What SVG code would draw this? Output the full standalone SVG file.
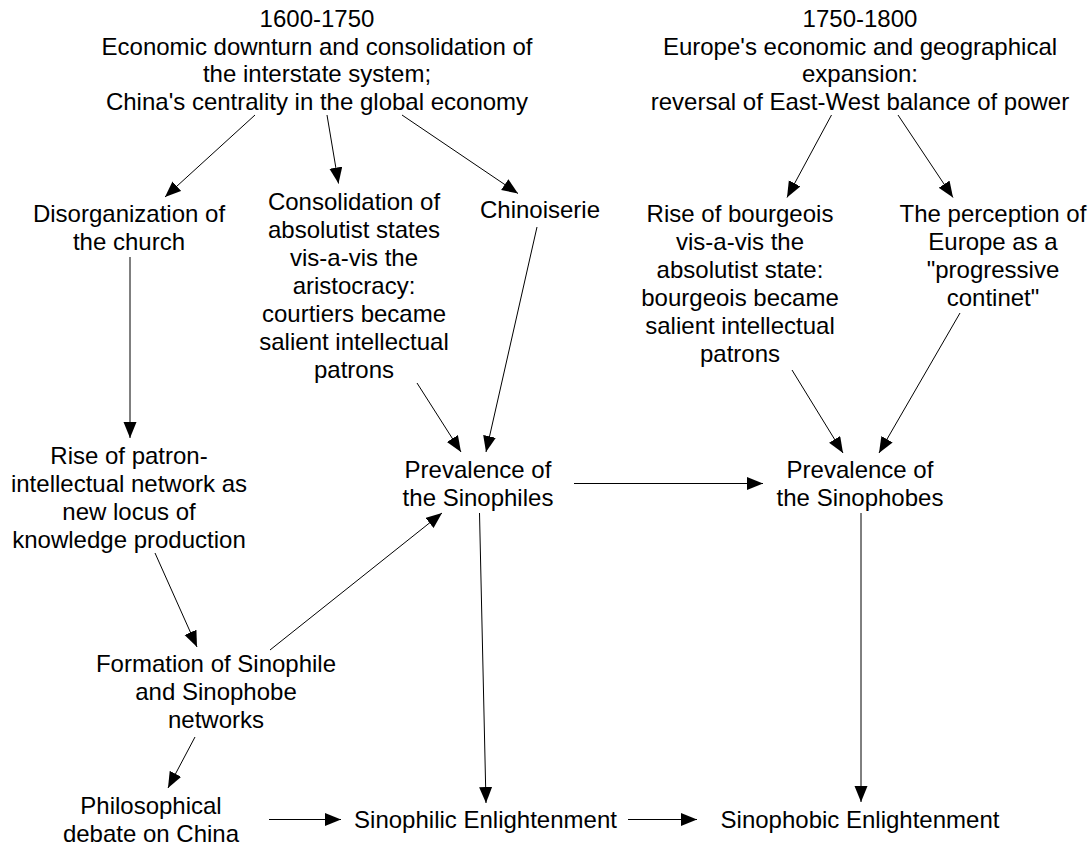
<svg xmlns="http://www.w3.org/2000/svg" width="1092" height="850" viewBox="0 0 1092 850">
<style>
text{font-family:"Liberation Sans",Arial,Helvetica,sans-serif;font-size:24px;fill:#000;text-anchor:middle}
.c line{stroke:#000;stroke-width:1;fill:none;marker-end:url(#ah)}
</style>
<defs>
<marker id="ah" markerUnits="userSpaceOnUse" markerWidth="17" markerHeight="14" refX="16" refY="6.5" orient="auto">
<path d="M0,0 L16,6.5 L0,13 z" fill="#000"/>
</marker>
</defs>
<rect width="1092" height="850" fill="#fff"/>
<g id="period1600">
<text x="317" y="27">1600-1750</text>
<text x="317" y="54.5">Economic downturn and consolidation of</text>
<text x="317" y="82">the interstate system;</text>
<text x="317" y="110">China's centrality in the global economy</text>
</g>
<g id="period1750">
<text x="860" y="27">1750-1800</text>
<text x="860" y="54.5">Europe's economic and geographical</text>
<text x="860" y="82">expansion:</text>
<text x="860" y="110">reversal of East-West balance of power</text>
</g>
<g id="disorganization">
<text x="129" y="222">Disorganization of</text>
<text x="129" y="250">the church</text>
</g>
<g id="consolidation">
<text x="354" y="210">Consolidation of</text>
<text x="354" y="238">absolutist states</text>
<text x="354" y="266">vis-a-vis the</text>
<text x="354" y="294">aristocracy:</text>
<text x="354" y="322">courtiers became</text>
<text x="354" y="350">salient intellectual</text>
<text x="354" y="378">patrons</text>
</g>
<g id="chinoiserie">
<text x="540" y="218">Chinoiserie</text>
</g>
<g id="bourgeois">
<text x="740" y="222">Rise of bourgeois</text>
<text x="740" y="250">vis-a-vis the</text>
<text x="740" y="278">absolutist state:</text>
<text x="740" y="306">bourgeois became</text>
<text x="740" y="334">salient intellectual</text>
<text x="740" y="362">patrons</text>
</g>
<g id="perception">
<text x="993" y="222">The perception of</text>
<text x="993" y="250">Europe as a</text>
<text x="993" y="278">"progressive</text>
<text x="993" y="306">continet"</text>
</g>
<g id="patronNetwork">
<text x="129" y="463.5">Rise of patron-</text>
<text x="129" y="491.5">intellectual network as</text>
<text x="129" y="519.5">new locus of</text>
<text x="129" y="547.5">knowledge production</text>
</g>
<g id="sinophiles">
<text x="478" y="478">Prevalence of</text>
<text x="478" y="505.5">the Sinophiles</text>
</g>
<g id="sinophobes">
<text x="860" y="478">Prevalence of</text>
<text x="860" y="505.5">the Sinophobes</text>
</g>
<g id="formation">
<text x="216" y="672">Formation of Sinophile</text>
<text x="216" y="700">and Sinophobe</text>
<text x="216" y="728">networks</text>
</g>
<g id="philosophical">
<text x="151" y="814">Philosophical</text>
<text x="151" y="842">debate on China</text>
</g>
<g id="sinophilicEnlightenment">
<text x="485.5" y="828">Sinophilic Enlightenment</text>
</g>
<g id="sinophobicEnlightenment">
<text x="860" y="828">Sinophobic Enlightenment</text>
</g>
<g id="connectors" class="c">
<line x1="255" y1="115" x2="165" y2="197"/>
<line x1="327" y1="115" x2="338.5" y2="183.5"/>
<line x1="402" y1="115" x2="518" y2="193.5"/>
<line x1="831.5" y1="115" x2="787" y2="197.5"/>
<line x1="898" y1="115" x2="953" y2="197.5"/>
<line x1="130" y1="257" x2="130" y2="438"/>
<line x1="417" y1="383" x2="461" y2="452"/>
<line x1="537" y1="227" x2="486" y2="452"/>
<line x1="792" y1="370" x2="843" y2="453"/>
<line x1="960" y1="313" x2="879" y2="453"/>
<line x1="574" y1="483.5" x2="763" y2="483.5"/>
<line x1="155" y1="553" x2="197" y2="647"/>
<line x1="270" y1="650" x2="442" y2="513"/>
<line x1="195" y1="737" x2="168" y2="788"/>
<line x1="479.5" y1="513" x2="486" y2="803"/>
<line x1="861" y1="513" x2="861" y2="802"/>
<line x1="269" y1="819.5" x2="341" y2="819.5"/>
<line x1="628" y1="819.5" x2="697" y2="819.5"/>
</g>
</svg>
